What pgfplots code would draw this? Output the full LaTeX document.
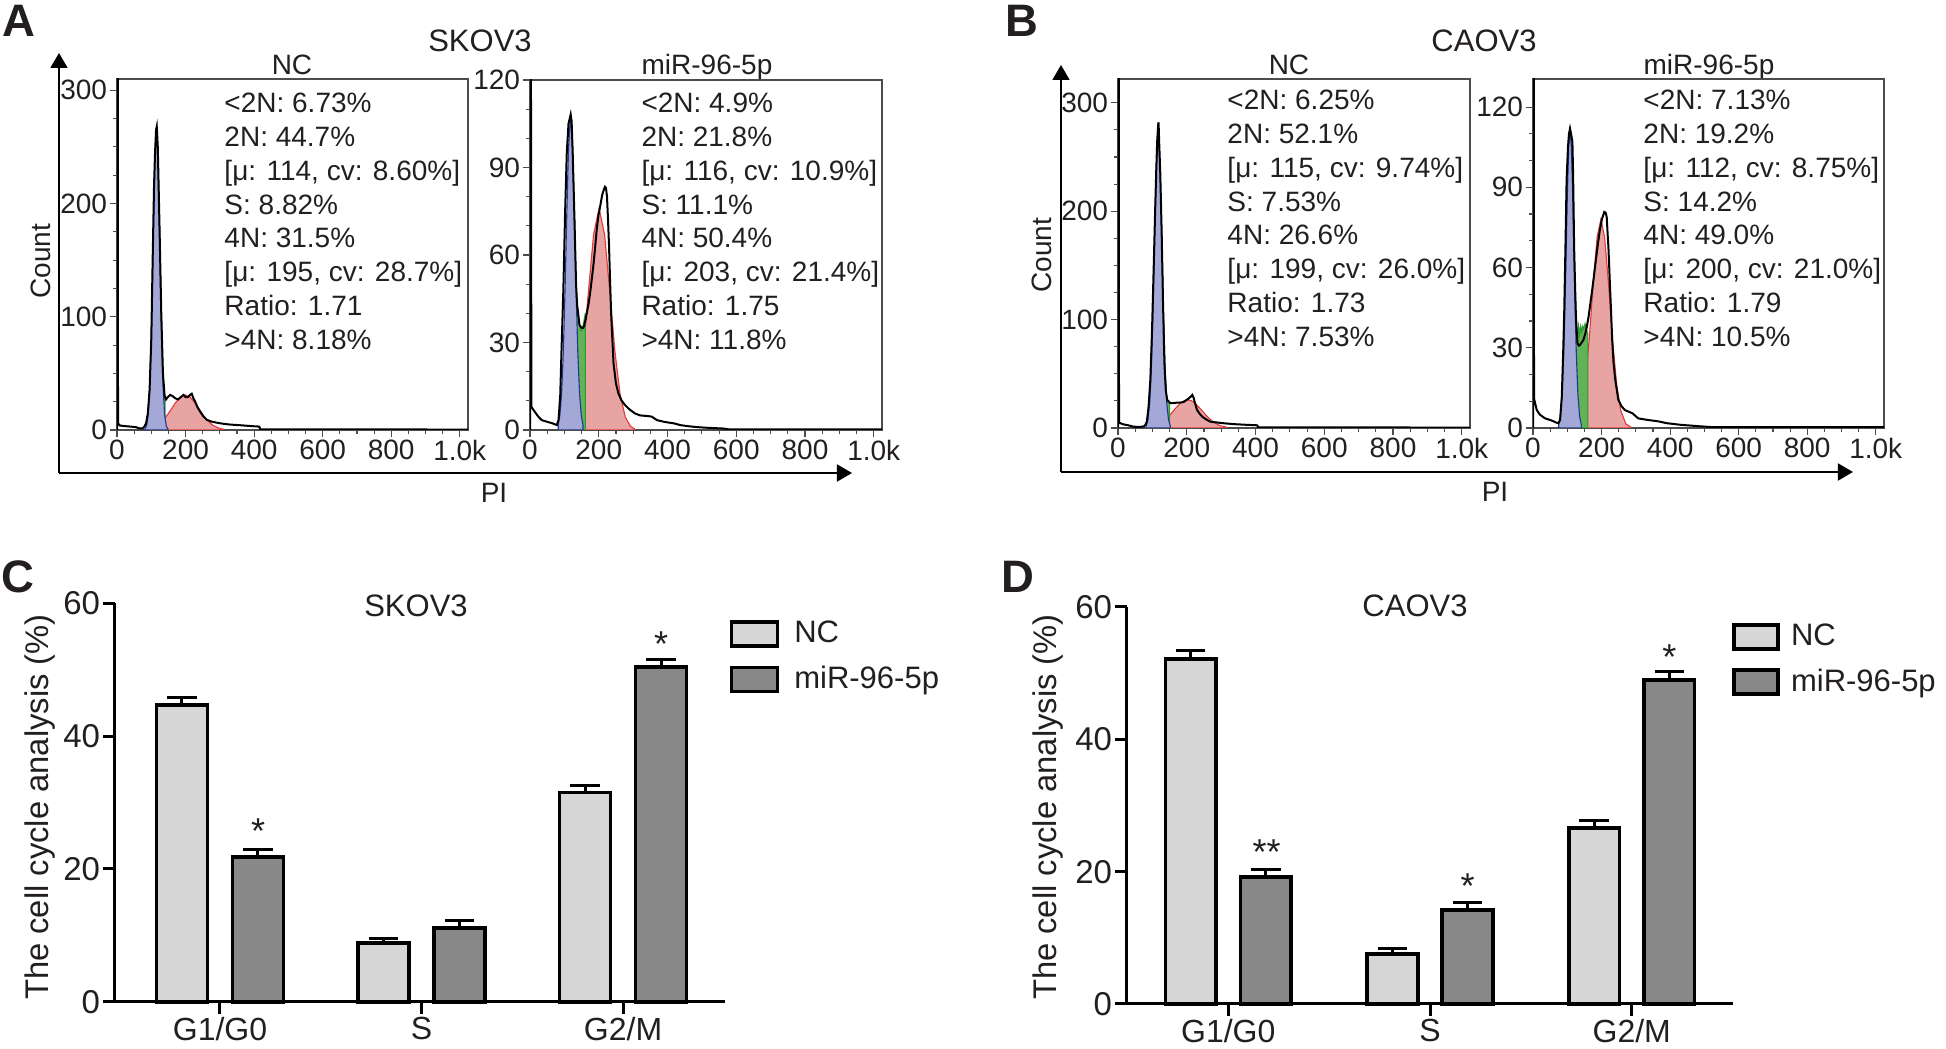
\documentclass[border=0pt]{standalone}
\usepackage{fontspec}
\setmainfont{Liberation Sans}
\usepackage{pgfplots}
\pgfplotsset{compat=1.18}
\usetikzlibrary{arrows.meta}
\definecolor{bluefill}{HTML}{A3A8D6}
\definecolor{blueline}{HTML}{1F3A8F}
\definecolor{greenfill}{HTML}{62B357}
\definecolor{greenline}{HTML}{2F9B2F}
\definecolor{redfill}{HTML}{E8A3A3}
\definecolor{redline}{HTML}{E33B3B}
\definecolor{ncgray}{HTML}{D6D6D6}
\definecolor{mirgray}{HTML}{888888}
\definecolor{txt}{HTML}{231F20}
\newcommand{\fs}[1]{\fontsize{#1}{1.2\dimexpr #1pt\relax}\selectfont}
\pgfplotsset{
 hist/.style={scale only axis, anchor=south west, xmin=0, xmax=1024, ymin=0,
  axis line style={draw=black!70, line width=0.45pt},
  tick align=outside, xtick pos=left, ytick pos=left,
  xtick={0,200,400,600,800,1000}, xticklabels={0,200,400,600,800,1.0k},
  minor x tick num=3,
  major tick length=2.8pt, minor tick length=1.5pt,
  tick style={draw=black!70, line width=0.45pt},
  tick label style={font=\fs{11.2}, text=txt},
  xticklabel style={inner sep=1pt}, yticklabel style={inner sep=1pt},
  /pgf/number format/assume math mode=true},
 blk/.style={draw=black, line width=0.8pt},
 bl/.style={fill=bluefill, draw=blueline, line width=0.45pt},
 gr/.style={fill=greenfill, draw=greenline, line width=0.45pt},
 rd/.style={fill=redfill, draw=redline, line width=0.45pt},
 barax/.style={scale only axis, anchor=south west, axis lines=left,
  axis line style={line width=1.2pt, -}, ymin=0, ymax=60, ytick={0,20,40,60},
  xtick={0,1,2}, xticklabels={G1/G0,S,G2/M}, tick align=outside,
  major tick length=4.8pt, tick style={line width=1.2pt, black},
  tick label style={font=\fs{13.2}, text=txt},
  yticklabel style={inner sep=1pt}, xticklabel style={font=\fs{12.8}, inner sep=1pt},
  /pgf/number format/assume math mode=true, clip=false, legend cell align=left},
 errb/.style={error bars/.cd, y dir=plus, y explicit,
  error bar style={line width=1.2pt, black},
  error mark options={rotate=90, line width=1.2pt, mark size=5.9pt, black}},
}
\begin{document}
\begin{tikzpicture}
\useasboundingbox (0,0) rectangle (778.4pt,-419.6pt);
\begin{scope}[x=0.4pt,y=-0.4pt, every node/.style={text=txt}]
\coordinate (A1) at (117,430);
\coordinate (A2) at (530,430);
\coordinate (B1) at (1118,428);
\coordinate (B2) at (1533,428);
\coordinate (C0) at (115,1002);
\coordinate (D0) at (1127,1004);
% panel letters
\node[anchor=base west, inner sep=0, font=\bfseries\fs{18.2}] at (2,37) {A};
\node[anchor=base west, inner sep=0, font=\bfseries\fs{18.2}] at (1005,37) {B};
\node[anchor=base west, inner sep=0, font=\bfseries\fs{18.2}] at (1,593) {C};
\node[anchor=base west, inner sep=0, font=\bfseries\fs{18.2}] at (1001,593) {D};
% titles
\node[anchor=base, inner sep=0, font=\fs{12.4}] at (480,52) {SKOV3};
\node[anchor=base, inner sep=0, font=\fs{12.4}] at (1484,52) {CAOV3};
\node[anchor=base, inner sep=0, font=\fs{11.2}] at (292,75) {NC};
\node[anchor=base, inner sep=0, font=\fs{11.2}] at (707,75) {miR-96-5p};
\node[anchor=base, inner sep=0, font=\fs{11.2}] at (1289,75) {NC};
\node[anchor=base, inner sep=0, font=\fs{11.2}] at (1709,75) {miR-96-5p};
\node[rotate=90, inner sep=0, font=\fs{11.2}] at (41,261) {Count};
\node[rotate=90, inner sep=0, font=\fs{11.2}] at (1042,255) {Count};
\node[inner sep=0, font=\fs{11.2}] at (494,493) {PI};
\node[inner sep=0, font=\fs{11.2}] at (1495,492) {PI};
% arrows
\draw[line width=0.7pt, -{Triangle[length=6pt,width=6.8pt]}] (59,473) -- (59,53);
\draw[line width=0.7pt, -{Triangle[length=6pt,width=6.8pt]}] (59,473) -- (852,473);
\draw[line width=0.7pt, -{Triangle[length=6pt,width=6.8pt]}] (1061,472) -- (1061,65);
\draw[line width=0.7pt, -{Triangle[length=6pt,width=6.8pt]}] (1061,472) -- (1853,472);
% annotations
\node[anchor=base west, inner sep=0, font=\fontsize{11.2}{13.5}\selectfont] at (224,113) {\begin{tabular}[t]{@{}l@{}}<2N: 6.73\%\\2N: 44.7\%\\{[}μ: 114, cv: 8.60\%]\\S: 8.82\%\\4N: 31.5\%\\{[}μ: 195, cv: 28.7\%]\\Ratio: 1.71\\>4N: 8.18\%\end{tabular}};
\node[anchor=base west, inner sep=0, font=\fontsize{11.2}{13.5}\selectfont] at (641,113) {\begin{tabular}[t]{@{}l@{}}<2N: 4.9\%\\2N: 21.8\%\\{[}μ: 116, cv: 10.9\%]\\S: 11.1\%\\4N: 50.4\%\\{[}μ: 203, cv: 21.4\%]\\Ratio: 1.75\\>4N: 11.8\%\end{tabular}};
\node[anchor=base west, inner sep=0, font=\fontsize{11.2}{13.5}\selectfont] at (1227,110) {\begin{tabular}[t]{@{}l@{}}<2N: 6.25\%\\2N: 52.1\%\\{[}μ: 115, cv: 9.74\%]\\S: 7.53\%\\4N: 26.6\%\\{[}μ: 199, cv: 26.0\%]\\Ratio: 1.73\\>4N: 7.53\%\end{tabular}};
\node[anchor=base west, inner sep=0, font=\fontsize{11.2}{13.5}\selectfont] at (1643,110) {\begin{tabular}[t]{@{}l@{}}<2N: 7.13\%\\2N: 19.2\%\\{[}μ: 112, cv: 8.75\%]\\S: 14.2\%\\4N: 49.0\%\\{[}μ: 200, cv: 21.0\%]\\Ratio: 1.79\\>4N: 10.5\%\end{tabular}};
% bar chart labels
\node[rotate=90, inner sep=0, font=\fs{13.1}] at (40,807) {The cell cycle analysis (\%)};
\node[rotate=90, inner sep=0, font=\fs{13.1}] at (1048,807) {The cell cycle analysis (\%)};
\node[anchor=base, inner sep=0, font=\fs{12.4}] at (416,617) {SKOV3};
\node[anchor=base, inner sep=0, font=\fs{12.4}] at (1415,617) {CAOV3};
\end{scope}

% ---------- A1 ----------
\begin{axis}[hist, at={(A1)}, width=140.4pt, height=140.4pt, ymax=310,
  ytick={0,100,200,300}, minor y tick num=3]
\addplot[rd] coordinates {(100,1.5)(120,4.4)(140,10.4)(155,16.9)(170,23.8)(185,29.2)(199,31)(213,29.2)(228,23.8)(243,16.9)(258,10.4)(278,4.4)(298,1.5)(310,0.7)} \closedcycle;
\addplot[gr] coordinates {(124,0)(124,180)(129,105)(134,50)(138,30)(140,28)(140,0)} \closedcycle;
\addplot[bl] coordinates {(81,0.6)(86,3.3)(91,13.2)(96,40.4)(101,95.5)(106,173.9)(111,243.8)(115,265)(119,243.8)(124,173.9)(129,95.5)(134,40.4)(139,13.2)(144,3.3)(149,0.6)} \closedcycle;
\addplot[blk] coordinates {(0,0)(0.5,400)(2,400)(3,6)(8,4)(20,3.5)(40,3)(55,2.5)(65,1.5)(75,1.5)(80,3)(85,6)(90,15)(95,35)(100,80)(104,150)(108,215)(111,245)(114,265)(116,268)(119,250)(124,180)(129,105)(134,50)(139,30)(143,27)(148,29)(155,31)(162,30)(170,28)(178,27)(186,29)(194,31)(200,29)(207,29)(213,31)(218,32)(223,28)(228,25)(235,20)(243,16)(252,12)(262,9)(275,7.5)(290,6.5)(310,5.5)(330,4.8)(360,4.2)(390,3.5)(415,3)(418,0.6)(1024,0.4)};
\end{axis}

% ---------- A2 ----------
\begin{axis}[hist, at={(A2)}, width=140.8pt, height=140pt, ymax=120,
  ytick={0,30,60,90,120}, minor y tick num=2]
\addplot[rd] coordinates {(110,1.3)(125,4.5)(140,12.3)(155,27)(170,47.5)(185,67)(201,76)(217,67)(232,47.5)(247,27)(262,12.3)(277,4.5)(292,1.3)(305,0.3)} \closedcycle;
\addplot[gr] coordinates {(126,0)(126,82)(129,74)(134,50)(137,43)(140,39.4)(144,36)(147,34)(150,34)(155,36)(158,38)(161,40)(161,0)} \closedcycle;
\addplot[bl] coordinates {(82,1.8)(87,5.2)(92,12.8)(97,26.9)(102,48.3)(107,73.8)(112,96.4)(118,108)(124,96.4)(129,73.8)(134,48.3)(139,26.9)(144,12.8)(149,5.2)(154,1.8)} \closedcycle;
\addplot[blk] coordinates {(0,0)(0.5,200)(2,200)(4,8)(10,6.9)(24,4.6)(34,3.4)(50,2.8)(65,2.3)(78,1.7)(83,3.4)(88,12)(92,28.6)(97,48)(102,74)(107,95)(112,105)(116,107)(118.3,108.2)(121,106)(124,96)(129,74)(134,50)(137,43)(140,40)(144,36)(150,35)(155,35)(158,36)(162,38)(165,40)(170,43)(175,47)(180,52)(184,56)(189,62)(194,68.6)(199,73.5)(204,76.6)(210,80.6)(215,82.5)(218,83.4)(221,83)(224,80)(227,72)(230,62.8)(233,51)(236,40)(240,30)(243,22.9)(250,16)(257,12.6)(266,10.2)(276,8.6)(290,7)(305,5.7)(320,5)(340,4.8)(354,4.6)(369,3.4)(390,2.8)(422,2.2)(436,1.7)(460,1.3)(485,1)(509,0.8)(563,0.5)(580,0.2)(1024,0.2)};
\end{axis}

% ---------- B1 ----------
\begin{axis}[hist, at={(B1)}, width=140.8pt, height=139.6pt, ymax=322,
  ytick={0,100,200,300}, minor y tick num=3]
\addplot[rd] coordinates {(90,0.7)(110,2.2)(130,5.7)(150,11.7)(165,17.3)(180,22.4)(192,25.1)(203,26)(214,25.1)(226,22.4)(241,17.3)(256,11.7)(276,5.7)(296,2.2)(316,0.7)} \closedcycle;
\addplot[gr] coordinates {(125,0)(125,200)(129,150)(133,85)(137,50)(141,30)(145,24)(150,23)(150,0)} \closedcycle;
\addplot[bl] coordinates {(82,2.1)(87,7.5)(92,22.4)(97,54.8)(102,110)(107,181)(112,244)(117,272)(122,244)(127,181)(132,110)(137,54.8)(142,22.4)(147,7.5)(152,2.1)} \closedcycle;
\addplot[blk] coordinates {(0,0)(0.5,400)(2,400)(3,5)(14,3.5)(30,2.5)(45,1.2)(64,1)(75,1.5)(80,3)(84,6)(89,20)(94,44)(99,90)(104,150)(108,200)(111,235)(114,265)(117,280)(118,282)(120,262)(123,235)(127,181)(131,115)(135,60)(139,35)(143,26)(152,23)(162,23)(172,23.4)(182,23.5)(191,24)(200,26)(206,27.4)(212,29)(216,30.5)(220,28)(223,24)(230,16.6)(238,13)(245,10.5)(256,8)(269,5.8)(290,5)(310,4.3)(340,3.5)(370,3)(405,2.5)(408,0.6)(1024,0.4)};
\end{axis}

% ---------- B2 ----------
\begin{axis}[hist, at={(B2)}, width=140.4pt, height=139.6pt, ymax=130.5,
  ytick={0,30,60,90,120}, minor y tick num=2]
\addplot[rd] coordinates {(110,0.3)(125,1.5)(140,6.5)(152,16.3)(164,33.2)(176,54.5)(187,71.3)(198,78)(209,71.3)(220,54.5)(232,33.2)(244,16.3)(256,6.5)(271,1.5)(286,0.3)} \closedcycle;
\addplot[gr] coordinates {(118,0)(118,79.6)(121,62)(124,48)(127,38)(130,33)(133,38)(136,35)(139,38)(142,36)(145,38)(148,37)(152,39)(156,37)(160,35)(160,0)} \closedcycle;
\addplot[bl] coordinates {(75,1.2)(80,4.4)(85,12.6)(90,29.4)(95,55.7)(100,86)(104,104.8)(108,112)(112,104.8)(116,86)(121,55.7)(126,29.4)(131,12.6)(136,4.4)(141,1.2)} \closedcycle;
\addplot[blk] coordinates {(0,0)(0.5,200)(2,200)(3,11)(11,6.7)(20,5)(35,3.6)(50,3)(60,2.5)(68,2)(74,1.8)(79,3)(84,11.7)(88,28)(91,42.8)(95,70)(98,92.6)(102,105)(105,110)(108,112)(111,110)(115,107)(117,95)(120,67.7)(123,52)(125,42.8)(128,35)(130,31.6)(134,30.8)(137,31)(142,32)(147,32.9)(152,35)(157,37.8)(162,41.5)(166,45.3)(172,51)(177,56)(181,60.3)(188,67.5)(195,74)(201,78)(208,80.8)(212,80.5)(215,79)(218,72)(220,67.7)(224,55)(228,42.8)(231,33)(235,24.2)(240,18)(249,10.5)(258,8.2)(268,6.7)(290,5.5)(307,3.6)(335,3)(365,2.5)(390,1.8)(430,1.2)(480,0.7)(526,0.3)(1024,0.3)};
\end{axis}

% ---------- C ----------
\begin{axis}[barax, at={(C0)}, width=244pt, height=159.6pt, xmin=-0.521, xmax=2.506,
  legend style={at={(1.0075,0.957)}, anchor=north west, draw=none, fill=none, inner sep=0pt, outer sep=0pt, row sep=7.1pt, column sep=6pt, nodes={inner sep=0pt, text=txt, font=\fs{12.4}}}]
\addplot[ybar, bar width=20.4pt, bar shift=0pt, fill=ncgray, draw=black, /tikz/line width=1.5pt,
  legend image code/.code={\draw[fill=ncgray, draw=black, line width=1.5pt] (0pt,-4.8pt) rectangle (18.4pt,4.8pt);}, errb]
  coordinates {(-0.1886,44.7) +- (0,1.1) (0.8114,8.82) +- (0,0.7) (1.8114,31.5) +- (0,1.0)};
\addlegendentry{NC}
\addplot[ybar, bar width=20.4pt, bar shift=0pt, fill=mirgray, draw=black, /tikz/line width=1.5pt,
  legend image code/.code={\draw[fill=mirgray, draw=black, line width=1.5pt] (0pt,-4.8pt) rectangle (18.4pt,4.8pt);}, errb]
  coordinates {(0.1886,21.8) +- (0,1.2) (1.1886,11.1) +- (0,1.2) (2.1886,50.4) +- (0,1.1)};
\addlegendentry{miR-96-5p}
\node[anchor=base, inner sep=0, font=\fs{14.4}, text=txt] at (axis cs:0.189,23.8) {*};
\node[anchor=base, inner sep=0, font=\fs{14.4}, text=txt] at (axis cs:2.189,51.9) {*};
\end{axis}

% ---------- D ----------
\begin{axis}[barax, at={(D0)}, width=242.4pt, height=158.8pt, xmin=-0.502, xmax=2.502,
  legend style={at={(0.998,0.960)}, anchor=north west, draw=none, fill=none, inner sep=0pt, outer sep=0pt, row sep=7.1pt, column sep=4.4pt, nodes={inner sep=0pt, text=txt, font=\fs{12.4}}}]
\addplot[ybar, bar width=20.2pt, bar shift=0pt, fill=ncgray, draw=black, /tikz/line width=1.5pt,
  legend image code/.code={\draw[fill=ncgray, draw=black, line width=1.5pt] (0pt,-4.8pt) rectangle (17.8pt,4.8pt);}, errb]
  coordinates {(-0.186,52.1) +- (0,1.3) (0.814,7.53) +- (0,0.8) (1.814,26.6) +- (0,1.2)};
\addlegendentry{NC}
\addplot[ybar, bar width=20.2pt, bar shift=0pt, fill=mirgray, draw=black, /tikz/line width=1.5pt,
  legend image code/.code={\draw[fill=mirgray, draw=black, line width=1.5pt] (0pt,-4.8pt) rectangle (17.8pt,4.8pt);}, errb]
  coordinates {(0.186,19.2) +- (0,1.2) (1.186,14.2) +- (0,1.2) (2.186,49.0) +- (0,1.3)};
\addlegendentry{miR-96-5p}
\node[anchor=base, inner sep=0, font=\fs{14.4}, text=txt] at (axis cs:0.19,21.1) {**};
\node[anchor=base, inner sep=0, font=\fs{14.4}, text=txt] at (axis cs:1.186,15.9) {*};
\node[anchor=base, inner sep=0, font=\fs{14.4}, text=txt] at (axis cs:2.186,50.6) {*};
\end{axis}
\end{tikzpicture}
\end{document}
